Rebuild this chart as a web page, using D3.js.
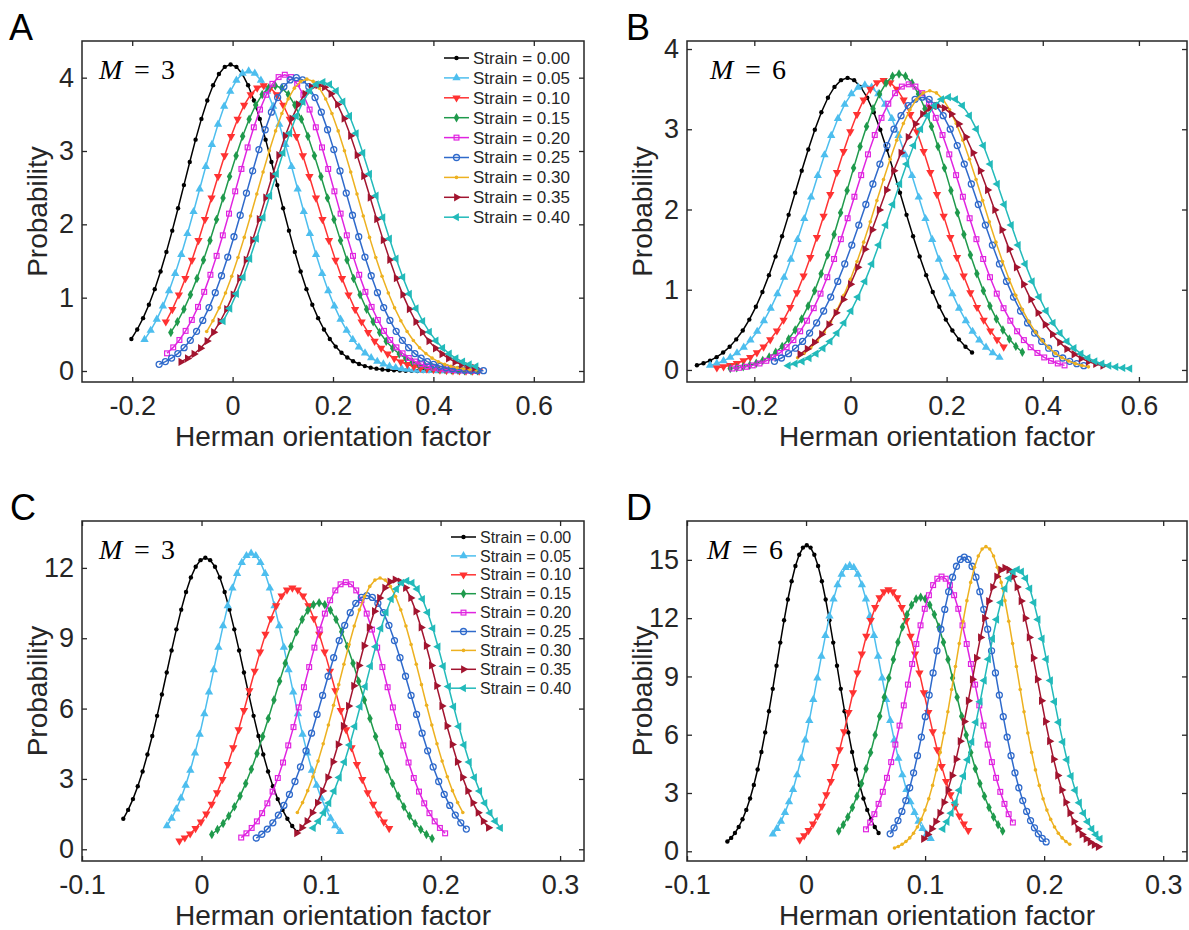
<!DOCTYPE html>
<html>
<head>
<meta charset="utf-8">
<script src="https://cdn.jsdelivr.net/npm/d3@7"></script>
<style>
  body { margin: 0; background: #ffffff; }
  svg { display: block; }
</style>
</head>
<body>
<svg id="fig" width="1189" height="930"></svg>
<script>
// ---------- shared labels ----------
const strainLabels = ["Strain = 0.00", "Strain = 0.05", "Strain = 0.10", "Strain = 0.15", "Strain = 0.20",
                      "Strain = 0.25", "Strain = 0.30", "Strain = 0.35", "Strain = 0.40"];
const xTickValuesAB = [-0.2, 0, 0.2, 0.4, 0.6];
const xTickLabelsAB = ["-0.2", "0", "0.2", "0.4", "0.6"];
const xTickValuesCD = [-0.1, 0, 0.1, 0.2, 0.3];
const xTickLabelsCD = ["-0.1", "0", "0.1", "0.2", "0.3"];
const yTicksA = [0, 1, 2, 3, 4];
const yTicksB = [0, 1, 2, 3, 4];
const yTicksC = [0, 3, 6, 9, 12];
const yTicksD = [0, 3, 6, 9, 12, 15];

// ---------- panel A (M = 3): first sample position, sample spacing, probabilities ----------
const xStartA = [-0.2016, -0.1754, -0.133, -0.123, -0.13065, -0.14635, -0.0516, -0.103, -0.01875];
const xStepA  = [0.011625, 0.0122, 0.013, 0.013, 0.01235, 0.012425, 0.012475, 0.013, 0.01325];
const probA = [
  [0.437,0.566,0.721,0.904,1.116,1.357,1.624,1.914,2.220,2.535,2.850,3.155,3.438,3.689,3.896,4.051,4.147,4.18,4.147,4.051,3.896,3.689,3.438,3.155,2.850,2.535,2.220,1.914,1.624,1.357,1.116,0.904,0.721,0.566,0.437,0.333,0.249,0.184,0.133,0.095,0.067,0.046,0.032,0.021,0.014,0.009,0.006,0.004,0.002,0.001,0.001,0.000],
  [0.428,0.553,0.705,0.885,1.092,1.328,1.589,1.872,2.172,2.481,2.789,3.087,3.364,3.609,3.812,3.964,4.058,4.09,4.058,3.964,3.812,3.609,3.364,3.087,2.789,2.481,2.172,1.872,1.589,1.328,1.092,0.885,0.705,0.553,0.428,0.326,0.244,0.180,0.130,0.093,0.065,0.045,0.031,0.021,0.014,0.009,0.006,0.004,0.002,0.001,0.001,0,0,0],
  [0.671,0.841,1.039,1.263,1.512,1.781,2.066,2.359,2.653,2.936,3.200,3.433,3.626,3.770,3.860,3.89,3.860,3.770,3.626,3.433,3.200,2.936,2.653,2.359,2.066,1.781,1.512,1.263,1.039,0.841,0.671,0.526,0.407,0.310,0.232,0.171,0.124,0.089,0.062,0.043,0.029,0.020,0.013,0.009,0.005,0.003,0.002,0.001,0.001],
  [0.526,0.671,0.841,1.039,1.263,1.512,1.781,2.066,2.359,2.653,2.936,3.200,3.433,3.626,3.770,3.860,3.89,3.860,3.770,3.626,3.433,3.200,2.936,2.653,2.359,2.066,1.781,1.512,1.263,1.039,0.841,0.671,0.526,0.407,0.310,0.232,0.171,0.124,0.089,0.062,0.043,0.029,0.020,0.013,0.009,0.005,0.003,0.002],
  [0.241,0.322,0.423,0.547,0.696,0.874,1.079,1.312,1.570,1.850,2.146,2.450,2.755,3.049,3.323,3.565,3.766,3.916,4.008,4.04,4.008,3.916,3.766,3.565,3.323,3.049,2.755,2.450,2.146,1.850,1.570,1.312,1.079,0.874,0.696,0.547,0.423,0.322,0.241,0.177,0.129,0.092,0.065,0.045,0.031,0.021,0.014,0.009,0.006,0.004,0.002],
  [0.091,0.128,0.176,0.238,0.318,0.418,0.541,0.690,0.865,1.068,1.299,1.554,1.831,2.124,2.426,2.728,3.019,3.290,3.530,3.728,3.877,3.969,4.000,3.969,3.877,3.728,3.530,3.290,3.019,2.728,2.426,2.124,1.831,1.554,1.299,1.068,0.865,0.690,0.541,0.418,0.318,0.238,0.176,0.128,0.091,0.064,0.044,0.030,0.020,0.013,0.009,0.006,0.004],
  [0.538,0.686,0.861,1.063,1.292,1.547,1.822,2.114,2.414,2.714,3.004,3.274,3.512,3.710,3.857,3.949,3.98,3.949,3.857,3.710,3.512,3.274,3.004,2.714,2.414,2.114,1.822,1.547,1.292,1.063,0.861,0.686,0.538,0.416,0.317,0.237,0.175,0.127,0.091,0.064,0.044,0.030,0.020,0.013],
  [0.124,0.171,0.232,0.310,0.408,0.528,0.672,0.844,1.042,1.266,1.516,1.785,2.071,2.365,2.659,2.944,3.208,3.442,3.635,3.780,3.870,3.900,3.870,3.780,3.635,3.442,3.208,2.944,2.659,2.365,2.071,1.785,1.516,1.266,1.042,0.844,0.672,0.528,0.408,0.310,0.232,0.171,0.124,0.089,0.062,0.043],
  [0.679,0.852,1.052,1.279,1.531,1.804,2.093,2.390,2.687,2.974,3.241,3.477,3.672,3.819,3.909,3.940,3.909,3.819,3.672,3.477,3.241,2.974,2.687,2.390,2.093,1.804,1.531,1.279,1.052,0.852,0.679,0.533,0.412,0.314,0.235,0.173,0.126,0.090,0.063]
];

// ---------- panel B (M = 6) ----------
const xStartB = [-0.319375, -0.292, -0.277875, -0.25, -0.2456, -0.158125, -0.11, -0.105, -0.1295];
const xStepB  = [0.013625, 0.014, 0.013875, 0.0135, 0.0141, 0.014625, 0.01375, 0.015, 0.0145];
const probB = [
  [0.058,0.083,0.116,0.160,0.217,0.290,0.381,0.492,0.628,0.787,0.972,1.182,1.415,1.666,1.933,2.208,2.482,2.747,2.994,3.212,3.393,3.528,3.612,3.640,3.612,3.528,3.393,3.212,2.994,2.747,2.482,2.208,1.933,1.666,1.415,1.182,0.972,0.787,0.628,0.492,0.381,0.290,0.217],
  [0.057,0.081,0.113,0.156,0.212,0.283,0.371,0.480,0.612,0.768,0.948,1.153,1.380,1.625,1.885,2.153,2.421,2.680,2.920,3.133,3.309,3.441,3.522,3.550,3.522,3.441,3.309,3.133,2.920,2.680,2.421,2.153,1.885,1.625,1.380,1.153,0.948,0.768,0.612,0.480,0.371,0.283,0.212,0.156],
  [0.027,0.040,0.058,0.082,0.115,0.158,0.215,0.287,0.378,0.488,0.622,0.781,0.964,1.172,1.403,1.653,1.917,2.189,2.462,2.725,2.970,3.186,3.365,3.499,3.582,3.610,3.582,3.499,3.365,3.186,2.970,2.725,2.462,2.189,1.917,1.653,1.403,1.172,0.964,0.781,0.622,0.488,0.378,0.287],
  [0.019,0.028,0.041,0.059,0.084,0.118,0.162,0.220,0.294,0.386,0.499,0.636,0.798,0.986,1.198,1.434,1.689,1.960,2.238,2.516,2.785,3.035,3.256,3.439,3.576,3.661,3.690,3.661,3.576,3.439,3.256,3.035,2.785,2.516,2.238,1.960,1.689,1.434,1.198,0.986,0.798,0.636,0.499,0.386,0.294,0.220],
  [0.018,0.027,0.040,0.057,0.081,0.114,0.156,0.212,0.283,0.372,0.482,0.614,0.770,0.951,1.156,1.383,1.630,1.891,2.159,2.428,2.687,2.928,3.142,3.318,3.450,3.532,3.560,3.532,3.450,3.318,3.142,2.928,2.687,2.428,2.159,1.891,1.630,1.383,1.156,0.951,0.770,0.614,0.482,0.372,0.283,0.212,0.156,0.114,0.081,0.057],
  [0.108,0.149,0.203,0.271,0.356,0.460,0.586,0.735,0.908,1.104,1.321,1.557,1.806,2.062,2.318,2.566,2.797,3.001,3.169,3.295,3.373,3.400,3.373,3.295,3.169,3.001,2.797,2.566,2.318,2.062,1.806,1.557,1.321,1.104,0.908,0.735,0.586,0.460,0.356,0.271,0.203,0.149,0.108,0.078,0.054],
  [0.153,0.207,0.277,0.364,0.471,0.600,0.753,0.930,1.130,1.352,1.593,1.848,2.111,2.373,2.627,2.863,3.071,3.244,3.373,3.453,3.480,3.453,3.373,3.244,3.071,2.863,2.627,2.373,2.111,1.848,1.593,1.352,1.130,0.930,0.753,0.600,0.471,0.364,0.277,0.207,0.153,0.111,0.079,0.056,0.039],
  [0.196,0.262,0.344,0.445,0.567,0.712,0.879,1.068,1.279,1.506,1.747,1.995,2.243,2.483,2.706,2.903,3.067,3.189,3.264,3.290,3.264,3.189,3.067,2.903,2.706,2.483,2.243,1.995,1.747,1.506,1.279,1.068,0.879,0.712,0.567,0.445,0.344,0.262,0.196,0.144,0.105,0.075,0.053],
  [0.054,0.078,0.108,0.149,0.203,0.271,0.356,0.460,0.586,0.735,0.908,1.104,1.321,1.557,1.806,2.062,2.318,2.566,2.797,3.001,3.169,3.295,3.373,3.400,3.373,3.295,3.169,3.001,2.797,2.566,2.318,2.062,1.806,1.557,1.321,1.104,0.908,0.735,0.586,0.460,0.356,0.271,0.203,0.149,0.108,0.078,0.054,0.038,0.026,0.017]
];

// ---------- panel C (M = 3) ----------
const xStartC = [-0.0654375, -0.028925, -0.0185, 0.008625, 0.0332, 0.0458, 0.0802, 0.0795875, 0.0935];
const xStepC  = [0.0040375, 0.0039125, 0.0045, 0.004725, 0.004375, 0.004625, 0.004325, 0.0043375, 0.00435];
const probC = [
  [1.30,1.68,2.14,2.69,3.32,4.04,4.83,5.69,6.60,7.54,8.48,9.38,10.22,10.97,11.59,12.05,12.33,12.43,12.33,12.05,11.59,10.97,10.22,9.38,8.48,7.54,6.60,5.69,4.83,4.04,3.32,2.69,2.14,1.68,1.30,0.99,0.74],
  [1.00,1.32,1.71,2.18,2.73,3.37,4.10,4.90,5.78,6.70,7.65,8.61,9.53,10.38,11.14,11.76,12.23,12.52,12.62,12.52,12.23,11.76,11.14,10.38,9.53,8.61,7.65,6.70,5.78,4.90,4.10,3.37,2.73,2.18,1.71,1.32,1.00,0.75],
  [0.36,0.49,0.66,0.89,1.17,1.51,1.92,2.41,2.98,3.62,4.33,5.10,5.92,6.76,7.60,8.42,9.17,9.84,10.39,10.81,11.06,11.15,11.06,10.81,10.39,9.84,9.17,8.42,7.60,6.76,5.92,5.10,4.33,3.62,2.98,2.41,1.92,1.51,1.17,0.89],
  [0.63,0.84,1.10,1.42,1.81,2.27,2.81,3.41,4.08,4.81,5.58,6.37,7.17,7.93,8.65,9.28,9.80,10.19,10.43,10.51,10.43,10.19,9.80,9.28,8.65,7.93,7.17,6.37,5.58,4.81,4.08,3.41,2.81,2.27,1.81,1.42,1.10,0.84,0.63,0.46],
  [0.50,0.68,0.91,1.19,1.54,1.96,2.46,3.04,3.70,4.43,5.21,6.05,6.91,7.77,8.60,9.37,10.05,10.62,11.04,11.30,11.39,11.30,11.04,10.62,10.05,9.37,8.60,7.77,6.91,6.05,5.21,4.43,3.70,3.04,2.46,1.96,1.54,1.19,0.91,0.68],
  [0.48,0.64,0.86,1.13,1.46,1.87,2.34,2.89,3.51,4.20,4.95,5.75,6.56,7.38,8.17,8.90,9.55,10.09,10.49,10.74,10.82,10.74,10.49,10.09,9.55,8.90,8.17,7.38,6.56,5.75,4.95,4.20,3.51,2.89,2.34,1.87,1.46,1.13,0.86],
  [1.57,1.99,2.50,3.09,3.76,4.50,5.30,6.14,7.02,7.89,8.73,9.52,10.21,10.78,11.21,11.48,11.57,11.48,11.21,10.78,10.21,9.52,8.73,7.89,7.02,6.14,5.30,4.50,3.76,3.09,2.50,1.99,1.57],
  [0.69,0.92,1.20,1.56,1.98,2.49,3.07,3.73,4.47,5.26,6.11,6.97,7.84,8.68,9.46,10.15,10.72,11.15,11.41,11.50,11.41,11.15,10.72,10.15,9.46,8.68,7.84,6.97,6.11,5.26,4.47,3.73,3.07,2.49,1.98,1.56,1.20,0.92],
  [0.91,1.20,1.55,1.97,2.48,3.06,3.72,4.45,5.24,6.08,6.94,7.81,8.64,9.42,10.10,10.67,11.10,11.36,11.45,11.36,11.10,10.67,10.10,9.42,8.64,7.81,6.94,6.08,5.24,4.45,3.72,3.06,2.48,1.97,1.55,1.20,0.91]
];

// ---------- panel D (M = 6) ----------
const xStartD = [-0.066075, -0.0279, -0.0053, 0.02745, 0.05035, 0.070675, 0.0743, 0.09875, 0.11495];
const xStepD  = [0.003175, 0.0034, 0.003725, 0.003825, 0.003525, 0.003275, 0.0032, 0.0034125, 0.003475];
const probD = [
  [0.50,0.69,0.94,1.25,1.65,2.13,2.72,3.41,4.21,5.11,6.12,7.21,8.36,9.55,10.74,11.89,12.96,13.90,14.68,15.26,15.63,15.75,15.63,15.26,14.68,13.90,12.96,11.89,10.74,9.55,8.36,7.21,6.12,5.11,4.21,3.41,2.72,2.13,1.65,1.25,0.94],
  [0.88,1.17,1.54,1.99,2.54,3.18,3.93,4.78,5.72,6.73,7.81,8.92,10.03,11.10,12.10,12.98,13.71,14.26,14.60,14.71,14.60,14.26,13.71,12.98,12.10,11.10,10.03,8.92,7.81,6.73,5.72,4.78,3.93,3.18,2.54,1.99,1.54,1.17,0.88,0.65],
  [0.59,0.80,1.07,1.41,1.82,2.32,2.91,3.60,4.37,5.23,6.16,7.15,8.16,9.18,10.16,11.07,11.88,12.55,13.05,13.36,13.46,13.36,13.05,12.55,11.88,11.07,10.16,9.18,8.16,7.15,6.16,5.23,4.37,3.60,2.91,2.32,1.82,1.41,1.07],
  [1.04,1.37,1.77,2.25,2.83,3.49,4.25,5.08,5.99,6.95,7.93,8.92,9.87,10.76,11.54,12.19,12.68,12.98,13.08,12.98,12.68,12.19,11.54,10.76,9.87,8.92,7.93,6.95,5.99,5.08,4.25,3.49,2.83,2.25,1.77,1.37,1.04],
  [1.13,1.48,1.91,2.44,3.06,3.78,4.59,5.49,6.47,7.51,8.58,9.64,10.67,11.63,12.48,13.18,13.70,14.03,14.14,14.03,13.70,13.18,12.48,11.63,10.67,9.64,8.58,7.51,6.47,5.49,4.59,3.78,3.06,2.44,1.91,1.48],
  [0.90,1.21,1.58,2.05,2.61,3.27,4.04,4.92,5.88,6.93,8.04,9.18,10.32,11.43,12.45,13.36,14.11,14.67,15.02,15.14,15.02,14.67,14.11,13.36,12.45,11.43,10.32,9.18,8.04,6.93,5.88,4.92,4.04,3.27,2.61,2.05,1.58,1.21,0.90,0.66,0.48],
  [0.17,0.25,0.36,0.50,0.69,0.93,1.25,1.64,2.12,2.70,3.39,4.19,5.09,6.09,7.18,8.33,9.51,10.69,11.84,12.90,13.84,14.62,15.20,15.56,15.68,15.56,15.20,14.62,13.84,12.90,11.84,10.69,9.51,8.33,7.18,6.09,5.09,4.19,3.39,2.70,2.12,1.64,1.25,0.93,0.69,0.50,0.36],
  [0.64,0.87,1.16,1.53,1.97,2.52,3.16,3.90,4.74,5.67,6.68,7.75,8.85,9.95,11.01,12.00,12.88,13.60,14.14,14.48,14.59,14.48,14.14,13.60,12.88,12.00,11.01,9.95,8.85,7.75,6.68,5.67,4.74,3.90,3.16,2.52,1.97,1.53,1.16,0.87,0.64,0.47,0.33,0.23],
  [1.15,1.52,1.96,2.50,3.14,3.87,4.71,5.63,6.64,7.70,8.79,9.89,10.94,11.93,12.80,13.52,14.05,14.39,14.50,14.39,14.05,13.52,12.80,11.93,10.94,9.89,8.79,7.70,6.64,5.63,4.71,3.87,3.14,2.50,1.96,1.52,1.15,0.86,0.64]
];

// ---------- styling ----------
const seriesColors = ["#000000", "#4DBEEE", "#FF3232", "#1F9A4C", "#E024E0", "#2F6ACB", "#EDB120", "#A2142F", "#22BABA"];
// marker shape per series: filled dot, up/down/right/left triangles, diamond, open square, open circle, small dot
const markerShapes = ["dot", "up", "down", "diamond", "square", "circle", "smalldot", "right", "left"];
const ink = "#262626";
const sans = "'Liberation Sans', Arial, Helvetica, sans-serif";
const serif = "'Liberation Serif', 'Times New Roman', serif";

const svg = d3.select("#fig");

function markerNode(sel, shape, color) {
  const tri = d3.symbol().type(d3.symbolTriangle).size(30)();
  const dia = d3.symbol().type(d3.symbolDiamond).size(26)();
  switch (shape) {
    case "dot":      return sel.append("circle").attr("r", 2.2).attr("fill", color);
    case "smalldot": return sel.append("circle").attr("r", 1.8).attr("fill", color);
    case "circle":   return sel.append("circle").attr("r", 3.0).attr("fill", "none").attr("stroke", color).attr("stroke-width", 1.3);
    case "square":   return sel.append("rect").attr("x", -2.4).attr("y", -2.4).attr("width", 4.8).attr("height", 4.8)
                              .attr("fill", "none").attr("stroke", color).attr("stroke-width", 1.2);
    case "diamond":  return sel.append("path").attr("d", dia).attr("fill", color);
    case "up":       return sel.append("path").attr("d", tri).attr("fill", color);
    case "down":     return sel.append("path").attr("d", tri).attr("transform", "rotate(180)").attr("fill", color);
    case "right":    return sel.append("path").attr("d", tri).attr("transform", "rotate(90)").attr("fill", color);
    case "left":     return sel.append("path").attr("d", tri).attr("transform", "rotate(-90)").attr("fill", color);
  }
}

function drawPanel(p) {
  const g = svg.append("g");
  const x = d3.scaleLinear().domain(p.xDomain).range([p.left, p.right]);
  const y = d3.scaleLinear().domain(p.yDomain).range([p.bottom, p.top]);

  const clipId = "clip" + p.letter;
  svg.append("clipPath").attr("id", clipId).append("rect")
    .attr("x", p.left).attr("y", p.top).attr("width", p.right - p.left).attr("height", p.bottom - p.top);

  const plot = g.append("g").attr("clip-path", `url(#${clipId})`);
  const line = d3.line().x(d => x(d[0])).y(d => y(d[1]));

  p.probs.forEach((vals, si) => {
    const pts = vals.map((v, i) => [p.starts[si] + i * p.steps[si], v]);
    const color = seriesColors[si];
    plot.append("path").attr("d", line(pts)).attr("fill", "none")
      .attr("stroke", color).attr("stroke-width", 1.5);
    const mk = plot.append("g");
    pts.forEach(d => {
      const m = mk.append("g").attr("transform", `translate(${x(d[0])},${y(d[1])})`);
      markerNode(m, markerShapes[si], color);
    });
  });

  // axes: labelled bottom/left, inward ticks on all four sides
  const bottom = d3.axisBottom(x).tickValues(p.xTicks).tickFormat((d, i) => p.xTickLabels[i])
    .tickSizeInner(-5).tickSizeOuter(0).tickPadding(14);
  const top = d3.axisTop(x).tickValues(p.xTicks).tickFormat("").tickSizeInner(-5).tickSizeOuter(0);
  const left = d3.axisLeft(y).tickValues(p.yTicks).tickFormat(d3.format("d"))
    .tickSizeInner(-5).tickSizeOuter(0).tickPadding(8);
  const right = d3.axisRight(y).tickValues(p.yTicks).tickFormat("").tickSizeInner(-5).tickSizeOuter(0);

  const axG = [
    g.append("g").attr("transform", `translate(0,${p.bottom})`).call(bottom),
    g.append("g").attr("transform", `translate(0,${p.top})`).call(top),
    g.append("g").attr("transform", `translate(${p.left},0)`).call(left),
    g.append("g").attr("transform", `translate(${p.right},0)`).call(right)
  ];
  axG.forEach(a => {
    a.select(".domain").remove();
    a.selectAll(".tick line").attr("stroke", ink).attr("stroke-width", 1.3);
    a.selectAll(".tick text").attr("fill", ink).style("font-family", sans).style("font-size", "27px");
  });

  g.append("rect").attr("x", p.left).attr("y", p.top)
    .attr("width", p.right - p.left).attr("height", p.bottom - p.top)
    .attr("fill", "none").attr("stroke", ink).attr("stroke-width", 1.5);

  // axis titles
  g.append("text").attr("x", (p.left + p.right) / 2).attr("y", p.bottom + 64)
    .attr("text-anchor", "middle").attr("fill", ink)
    .style("font-family", sans).style("font-size", "28px").text("Herman orientation factor");
  g.append("text").attr("transform", `translate(${p.left - 35},${(p.top + p.bottom) / 2}) rotate(-90)`)
    .attr("text-anchor", "middle").attr("fill", ink)
    .style("font-family", sans).style("font-size", "28px").text("Probability");

  // panel letter
  g.append("text").attr("x", p.letterX).attr("y", p.top - 1).attr("fill", "#000")
    .style("font-family", sans).style("font-size", "36px").text(p.letter);

  // model annotation
  const ann = g.append("text").attr("y", p.top + 38).attr("fill", "#000")
    .style("font-family", serif).style("font-size", "28px");
  ann.append("tspan").attr("x", p.left + p.mOffset).style("font-style", "italic").text("M");
  ann.append("tspan").attr("x", p.left + p.mOffset + 35).text("=");
  ann.append("tspan").attr("x", p.left + p.mOffset + 62).text(p.mValue);

  // legend
  if (p.legend) {
    const L = p.legend;
    strainLabels.forEach((lab, si) => {
      const cy = L.y + si * L.dy;
      const row = g.append("g");
      row.append("line").attr("x1", L.x).attr("x2", L.x + 25).attr("y1", cy).attr("y2", cy)
        .attr("stroke", seriesColors[si]).attr("stroke-width", 1.5);
      markerNode(row.append("g").attr("transform", `translate(${L.x + 12.5},${cy})`), markerShapes[si], seriesColors[si]);
      row.append("text").attr("x", L.x + 29).attr("y", cy).attr("dy", "0.35em").attr("fill", ink)
        .style("font-family", sans).style("font-size", L.fs + "px").text(lab);
    });
  }
}

drawPanel({ letter: "A", letterX: 9, left: 82, right: 584, top: 41, bottom: 382,
  xDomain: [-0.3, 0.7], yDomain: [-0.15, 4.5], xTicks: xTickValuesAB, xTickLabels: xTickLabelsAB, yTicks: yTicksA,
  starts: xStartA, steps: xStepA, probs: probA, mValue: "3", mOffset: 17,
  legend: { x: 444, y: 58, dy: 19.9, fs: 17 } });

drawPanel({ letter: "B", letterX: 626, left: 687, right: 1187, top: 41, bottom: 382,
  xDomain: [-0.34, 0.7], yDomain: [-0.15, 4.1], xTicks: xTickValuesAB, xTickLabels: xTickLabelsAB, yTicks: yTicksB,
  starts: xStartB, steps: xStepB, probs: probB, mValue: "6", mOffset: 23 });

drawPanel({ letter: "C", letterX: 10, left: 82, right: 584, top: 521, bottom: 861,
  xDomain: [-0.1, 0.32], yDomain: [-0.5, 14], xTicks: xTickValuesCD, xTickLabels: xTickLabelsCD, yTicks: yTicksC,
  starts: xStartC, steps: xStepC, probs: probC, mValue: "3", mOffset: 17,
  legend: { x: 451, y: 537, dy: 18.9, fs: 16 } });

drawPanel({ letter: "D", letterX: 626, left: 687, right: 1187, top: 521, bottom: 861,
  xDomain: [-0.1, 0.32], yDomain: [-0.5, 17], xTicks: xTickValuesCD, xTickLabels: xTickLabelsCD, yTicks: yTicksD,
  starts: xStartD, steps: xStepD, probs: probD, mValue: "6", mOffset: 20 });
</script>
</body>
</html>
